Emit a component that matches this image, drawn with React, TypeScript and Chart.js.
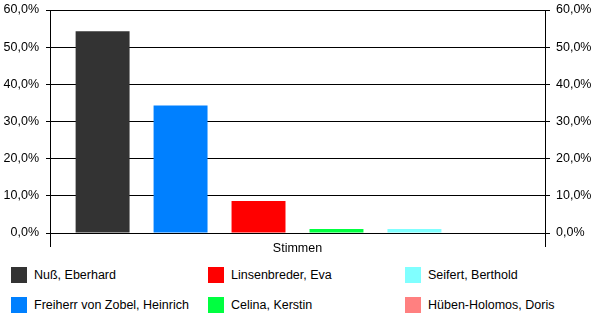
import React, { useEffect, useRef } from "react";
import { Chart, registerables } from "chart.js";

Chart.register(...registerables);

const categories = ["Stimmen"];
const seriesNames = [
  "Nuß, Eberhard",
  "Freiherr von Zobel, Heinrich",
  "Linsenbreder, Eva",
  "Celina, Kerstin",
  "Seifert, Berthold",
  "Hüben-Holomos, Doris",
];
const seriesValues = [54.3, 34.3, 8.6, 1.1, 1.1, 0];
const seriesColors = ["#333333", "#0080ff", "#ff0000", "#00ff40", "#80ffff", "#ff8080"];
const yTickMin = 0;
const yTickMax = 60;
const yTickStep = 10;

const FONT = "'Liberation Sans', Arial, sans-serif";
const fmt = (v: number) => v.toFixed(1).replace(".", ",") + "%";

export default function App() {
  const canvasRef = useRef<HTMLCanvasElement | null>(null);

  useEffect(() => {
    if (!canvasRef.current) return;
    const tickFont = { family: FONT, size: 12.5 };
    const chart = new Chart(canvasRef.current, {
      type: "bar",
      data: {
        labels: categories,
        datasets: seriesNames.map((name, i) => ({
          label: name,
          data: [seriesValues[i]],
          backgroundColor: seriesColors[i],
          borderWidth: 0,
          categoryPercentage: 0.945,
          barPercentage: 0.692,
        })),
      },
      options: {
        animation: false,
        responsive: false,
        maintainAspectRatio: false,
        events: [],
        layout: { padding: { top: 10, left: 0, right: 0, bottom: 0 } },
        plugins: {
          legend: { display: false },
          tooltip: { enabled: false },
          title: { display: false },
        },
        scales: {
          x: {
            type: "category",
            offset: true,
            grid: {
              display: true,
              offset: true,
              drawOnChartArea: false,
              color: "#000000",
              tickLength: 14,
              lineWidth: 1,
            },
            border: { display: true, color: "#000000" },
            ticks: { color: "#000000", font: tickFont, padding: -6 },
            afterFit: (scale: any) => {
              scale.height = 28;
              scale.paddingLeft = 0;
              scale.paddingRight = 0;
            },
          },
          y: {
            position: "left",
            min: yTickMin,
            max: yTickMax,
            ticks: {
              stepSize: yTickStep,
              color: "#000000",
              font: tickFont,
              padding: 7,
              callback: (v: any) => fmt(Number(v)),
            },
            grid: { color: "#000000", tickLength: 4, lineWidth: 1 },
            border: { display: true, color: "#000000" },
            afterFit: (scale: any) => {
              scale.width = 50;
              scale.paddingTop = 0;
              scale.paddingBottom = 0;
            },
          },
          y2: {
            position: "right",
            min: yTickMin,
            max: yTickMax,
            ticks: {
              stepSize: yTickStep,
              color: "#000000",
              font: tickFont,
              padding: 6,
              callback: (v: any) => fmt(Number(v)),
            },
            grid: { color: "#000000", tickLength: 5, drawOnChartArea: false, lineWidth: 1 },
            border: { display: true, color: "#000000" },
            afterFit: (scale: any) => {
              scale.width = 55;
              scale.paddingTop = 0;
              scale.paddingBottom = 0;
            },
          },
        },
      } as any,
    });
    return () => chart.destroy();
  }, []);

  return (
    <div
      style={{
        position: "fixed",
        left: 0,
        top: 0,
        width: 600,
        height: 326,
        background: "#ffffff",
        fontFamily: FONT,
        overflow: "hidden",
      }}
    >
      <canvas
        ref={canvasRef}
        width={600}
        height={261}
        style={{ position: "absolute", left: 0, top: 0, width: 600, height: 261 }}
      />
      {seriesNames.map((name, i) => {
        const col = Math.floor(i / 2);
        const row = i % 2;
        return (
          <div
            key={name}
            style={{
              position: "absolute",
              left: 11 + col * 197,
              top: 267 + row * 30,
              height: 16,
              display: "flex",
              alignItems: "center",
              whiteSpace: "nowrap",
              fontSize: 12.5,
              color: "#000000",
            }}
          >
            <span
              style={{
                display: "inline-block",
                width: 16,
                height: 16,
                background: seriesColors[i],
                marginRight: 7,
              }}
            />
            <span>{name}</span>
          </div>
        );
      })}
    </div>
  );
}
